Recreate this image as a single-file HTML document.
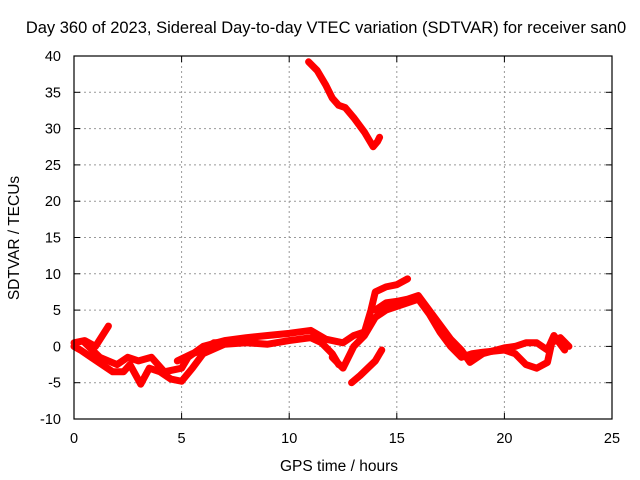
<!DOCTYPE html>
<html><head><meta charset="utf-8"><style>
body{margin:0;background:#fff;}
svg{display:block;font-family:"Liberation Sans",sans-serif;}
</style></head><body>
<svg id="chart" width="640" height="480">
<rect width="640" height="480" fill="#fff"/>
<text x="326" y="33" font-size="16.5" text-anchor="middle">Day 360 of 2023, Sidereal Day-to-day VTEC variation (SDTVAR) for receiver san0</text>
<g id="grid"></g><g id="ticks"></g><g id="series"></g>
<rect x="74" y="56" width="538" height="363" fill="none" stroke="#000" stroke-width="1.2"/>
<text x="339" y="471" font-size="15.5" text-anchor="middle">GPS time / hours</text>
<text transform="translate(19,238) rotate(-90)" font-size="15.5" text-anchor="middle">SDTVAR / TECUs</text>
</svg>
<script>
const xTicks=[0,5,10,15,20,25];
const yTicks=[-10,-5,0,5,10,15,20,25,30,35,40];
const seriesA=[[10.9,39.2],[11.3,38],[11.7,36],[12.0,34.2],[12.3,33.2],[12.6,32.9],[13.0,31.5],[13.5,29.5],[13.9,27.5],[14.1,28.2],[14.2,28.8]];
const seriesB=[[0,0],[0.3,-0.5],[0.8,-1.5],[1.3,-2.5],[1.8,-3.5],[2.3,-3.5],[2.6,-2.5],[3.1,-5.2],[3.5,-3],[4.0,-3.5],[4.5,-4.5],[5,-4.8],[5.5,-3],[6,-1],[7,0.3],[8,0.5],[9,0.3],[10,0.8],[11,1.2],[11.5,0.5],[12,-1],[12.3,-2.5]];
const seriesC=[[0,0.5],[0.5,0.8],[1.0,0],[1.6,2.8]];
const seriesD=[[0.5,0.5],[1.2,-1.5],[2,-2.5],[2.5,-1.5],[3,-2],[3.6,-1.5],[4.2,-3.5],[5,-3],[5.3,-1.5],[6,0],[7,0.8],[8,1.2],[9,1.5],[10,1.8],[11,2.2],[11.7,1],[12.5,0.5],[13,1.5],[13.5,2],[13.8,5],[14,7.5],[14.5,8.2],[15,8.5],[15.5,9.3]];
const seriesE=[[12,-1.5],[12.5,-3.0],[13,0],[13.5,1.5],[14,4],[14.5,5],[15,5.5],[16,6.5],[16.5,4.5],[17,2],[17.5,0],[18,-1.5],[18.5,-1],[19,-0.8],[20,-0.5],[20.5,-1],[21,-2.5],[21.5,-3],[22,-2.2],[22.2,0.5],[22.6,1.2],[23,0]];
const seriesF=[[14,5],[14.5,6],[15,6.2],[15.5,6.5],[16,7],[16.5,5],[17,3],[17.5,1],[18,-0.5],[18.4,-2.2],[19,-1],[20,-0.2],[20.5,0],[21,0.5],[21.5,0.5],[22,-0.5],[22.3,1.5],[22.8,-0.5]];
const seriesG=[[12.9,-5],[13.3,-4],[14,-2],[14.3,-0.5]];
const seriesH=[[4.8,-2],[5.5,-1],[6,-0.5],[6.5,0.5],[7,0.5]];
const allSeries=[seriesA,seriesB,seriesC,seriesD,seriesE,seriesF,seriesG,seriesH];
const NS="http://www.w3.org/2000/svg";
const X=v=>74+(v/25)*538;
const Y=v=>419-((v+10)/50)*363;
const grid=document.getElementById('grid'),ticks=document.getElementById('ticks'),ser=document.getElementById('series');
function mk(t,a){const e=document.createElementNS(NS,t);for(const k in a)e.setAttribute(k,a[k]);return e;}
xTicks.forEach(v=>{
 if(v>0&&v<25){const g=mk('line',{x1:X(v),x2:X(v),y1:56,y2:419,stroke:'#999','stroke-dasharray':'2,3'});
 
 grid.appendChild(g);}
 const t=mk('text',{x:X(v),y:443,'font-size':14.5,'text-anchor':'middle'});t.textContent=v;
 
 ticks.appendChild(t);
 ticks.appendChild(mk('line',{x1:X(v),x2:X(v),y1:419,y2:413,stroke:'#000'}));
 ticks.appendChild(mk('line',{x1:X(v),x2:X(v),y1:56,y2:62,stroke:'#000'}));
});
yTicks.forEach(v=>{
 if(v>-10&&v<40){const g=mk('line',{x1:74,x2:612,y1:Y(v),y2:Y(v),stroke:'#999','stroke-dasharray':'2,3'});
 
 grid.appendChild(g);}
 const t=mk('text',{x:61,y:Y(v)+5,'font-size':14.5,'text-anchor':'end'});t.textContent=v;
 
 ticks.appendChild(t);
 ticks.appendChild(mk('line',{x1:74,x2:80,y1:Y(v),y2:Y(v),stroke:'#000'}));
 ticks.appendChild(mk('line',{x1:606,x2:612,y1:Y(v),y2:Y(v),stroke:'#000'}));
});
allSeries.forEach(s=>{
 const p=mk('polyline',{points:s.map(d=>X(d[0])+','+Y(d[1])).join(' '),fill:'none',stroke:'#f00','stroke-width':7,'stroke-linejoin':'round','stroke-linecap':'round'});
 
 
 ser.appendChild(p);
});
</script>
</body></html>
